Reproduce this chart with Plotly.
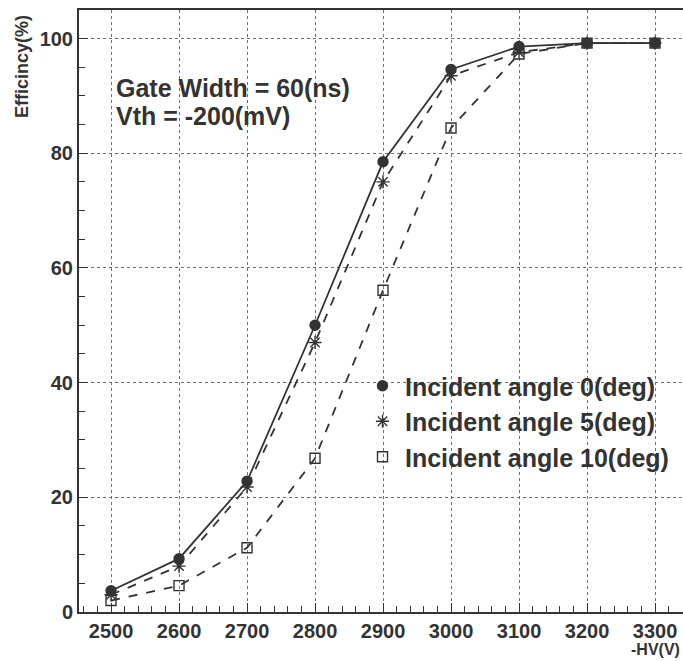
import plotly.graph_objects as go

hv = [2500, 2600, 2700, 2800, 2900, 3000, 3100, 3200, 3300]
eff_0deg = [3.7, 9.3, 22.8, 50.0, 78.5, 94.6, 98.6, 99.2, 99.2]
eff_5deg = [3.0, 8.0, 21.8, 47.0, 75.0, 93.5, 97.6, 99.2, 99.2]
eff_10deg = [2.0, 4.6, 11.2, 26.8, 56.1, 84.4, 97.3, 99.2, 99.2]
labels = ["Incident angle 0(deg)", "Incident angle 5(deg)", "Incident angle 10(deg)"]
ytick_vals = [0, 20, 40, 60, 80, 100]

ink = "#333333"
FONT = "Liberation Sans"
W, H = 683, 661
L, R, T, B = 79, 0, 10, 49
PW, PH = W - L - R, H - T - B


def px(x):
    return (x - L) / PW


def py(y):
    return (H - B - y) / PH


fig = go.Figure()
series = [
    (eff_0deg, "solid", "circle", 10),
    (eff_5deg, "dash", "asterisk-open", 11),
    (eff_10deg, "dash", "square-open", 10),
]
for (vals, dash, sym, size), name in zip(series, labels):
    fig.add_trace(go.Scatter(
        x=hv, y=vals, mode="lines+markers", showlegend=False,
        line=dict(color=ink, width=1.8, dash=dash),
        marker=dict(symbol=sym, size=size, color=ink, line=dict(color=ink, width=1.4)),
    ))
for (vals, dash, sym, size), name in zip(series, labels):
    fig.add_trace(go.Scatter(
        x=[None], y=[None], mode="markers", name=name,
        marker=dict(symbol=sym, size=size, color=ink, line=dict(color=ink, width=1.4)),
    ))

fig.update_layout(
    width=W, height=H,
    margin=dict(l=L, r=R, t=T, b=B),
    paper_bgcolor="white", plot_bgcolor="white",
    font=dict(family=FONT, color=ink, size=19, weight="bold"),
    legend=dict(x=px(360), y=py(363), xanchor="left", yanchor="top",
                bgcolor="rgba(0,0,0,0)", font=dict(size=25, color=ink, family=FONT, weight="bold"),
                tracegroupgap=0, itemwidth=35),
    xaxis=dict(
        range=[2452.9, 2452.9 + PW / 0.68], tickvals=hv, ticks="inside", ticklen=9, tickcolor=ink,
        showline=True, linecolor=ink, linewidth=2, mirror=True,
        showgrid=True, gridcolor="#707070", griddash="dot", gridwidth=1,
        minor=dict(dtick=20, tick0=2500, ticks="inside", ticklen=6, tickcolor=ink, showgrid=False),
        zeroline=False, tickfont=dict(size=20), ticklabelstandoff=0,
    ),
    yaxis=dict(
        range=[0, PH / 5.735], tickvals=ytick_vals, ticks="inside", ticklen=9, tickcolor=ink,
        showline=True, linecolor=ink, linewidth=2,
        showgrid=True, gridcolor="#707070", griddash="dot", gridwidth=1,
        minor=dict(dtick=5, tick0=0, ticks="inside", ticklen=6, tickcolor=ink, showgrid=False),
        zeroline=False, tickfont=dict(size=20), ticksuffix="\u00a0\u00a0",
    ),
)

fig.add_annotation(text="Efficincy(%)", textangle=-90, xref="paper", yref="paper",
                   x=px(22), y=py(67), xanchor="center", yanchor="middle", showarrow=False,
                   font=dict(size=18, color=ink, family=FONT, weight="bold"))
fig.add_annotation(text="-HV(V)", xref="paper", yref="paper", x=px(682), y=py(660),
                   xanchor="right", yanchor="bottom", showarrow=False,
                   font=dict(size=16, color=ink, family=FONT, weight="bold"))
fig.add_annotation(text="Gate Width = 60(ns)", xref="paper", yref="paper",
                   x=px(114), y=py(88), xanchor="left", yanchor="middle",
                   showarrow=False, font=dict(size=25, color=ink, family=FONT, weight="bold"))
fig.add_annotation(text="Vth = -200(mV)", xref="paper", yref="paper",
                   x=px(114), y=py(116), xanchor="left", yanchor="middle",
                   showarrow=False, font=dict(size=25, color=ink, family=FONT, weight="bold"))

fig.write_html("out.html")
